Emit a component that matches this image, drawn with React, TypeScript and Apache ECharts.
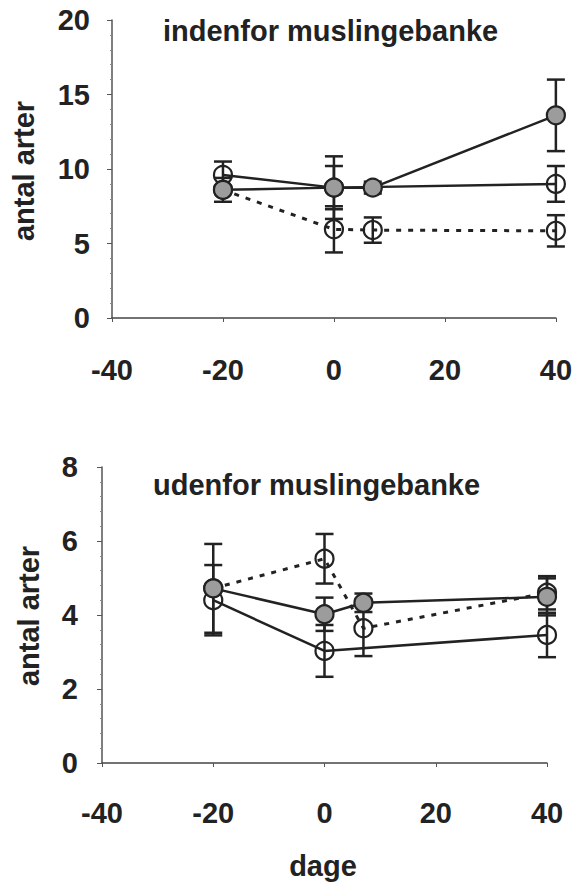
import React, { useEffect, useRef } from "react";
import * as echarts from "echarts";

// ---- data: top panel (indenfor muslingebanke) ----
const topDaysA = [-20, 0, 7, 40];
const topValsA = [8.6, 8.75, 8.75, 13.6];
const topErrA = [0.8, 1.45, 0.4, 2.4];

const topDaysB = [-20, 0, 40];
const topValsB = [9.6, 8.75, 9.0];
const topErrB = [0.9, 2.1, 1.2];

const topDaysC = [-20, 0, 7, 40];
const topValsC = [8.6, 5.95, 5.9, 5.85];
const topErrC = [0, 1.55, 0.85, 1.05];

// ---- data: bottom panel (udenfor muslingebanke) ----
const botDaysA = [-20, 0, 7, 40];
const botValsA = [4.72, 4.02, 4.33, 4.49];
const botErrA = [1.2, 0.45, 0.25, 0.5];

const botDaysB = [-20, 0, 40];
const botValsB = [4.4, 3.03, 3.46];
const botErrB = [0.95, 0.7, 0.6];

const botDaysC = [-20, 0, 7, 40];
const botValsC = [4.72, 5.52, 3.64, 4.6];
const botErrC = [0, 0.67, 0.75, 0.45];

const xTicks = [-40, -20, 0, 20, 40];
const topTitle = "indenfor muslingebanke";
const botTitle = "udenfor muslingebanke";
const yName = "antal arter";
const xName = "dage";

const FONT = '"Liberation Sans", Arial, Helvetica, sans-serif';
const INK = "#222";

function pts(days: number[], vals: number[]) {
  return days.map((d, i) => [d, vals[i]]);
}
function errPts(days: number[], vals: number[], errs: number[]) {
  return days.map((d, i) => [d, vals[i], errs[i]]);
}

function errSeries(data: number[][], idx: number) {
  return {
    type: "custom",
    xAxisIndex: idx,
    yAxisIndex: idx,
    z: 1,
    silent: true,
    data,
    encode: { x: 0, y: 1 },
    renderItem: (params: any, api: any) => {
      const x = api.value(0);
      const y = api.value(1);
      const e = api.value(2);
      if (!e) return null;
      const t = api.coord([x, y + e]);
      const b = api.coord([x, y - e]);
      const w = 9;
      const st = { stroke: INK, lineWidth: 2.5 };
      return {
        type: "group",
        children: [
          { type: "line", shape: { x1: t[0], y1: t[1], x2: b[0], y2: b[1] }, style: st },
          { type: "line", shape: { x1: t[0] - w, y1: t[1], x2: t[0] + w, y2: t[1] }, style: st },
          { type: "line", shape: { x1: b[0] - w, y1: b[1], x2: b[0] + w, y2: b[1] }, style: st },
        ],
      };
    },
  };
}

function lineSeries(data: number[][], idx: number, kind: "filled" | "open" | "dashed", z: number) {
  return {
    type: "line",
    xAxisIndex: idx,
    yAxisIndex: idx,
    z,
    data,
    symbol: "circle",
    symbolSize: 18,
    showSymbol: true,
    lineStyle: {
      color: INK,
      width: kind === "dashed" ? 3 : 2.5,
      type: kind === "dashed" ? [5, 7] : "solid",
    },
    itemStyle: {
      color: kind === "filled" ? "#9c9c9c" : "rgba(255,255,255,0)",
      borderColor: INK,
      borderWidth: 2.2,
      opacity: 1,
    },
  };
}

function xAxis(idx: number, margin: number) {
  return {
    type: "value",
    gridIndex: idx,
    min: -40,
    max: 40,
    interval: 20,
    axisLine: { show: true, onZero: false, lineStyle: { color: "#444", width: 1.5 } },
    axisTick: { show: true, length: 4, lineStyle: { color: "#555" } },
    splitLine: { show: false },
    axisLabel: {
      margin,
      fontSize: 29,
      fontWeight: "bold",
      fontFamily: FONT,
      color: INK,
      formatter: (v: number) => (xTicks.includes(v) ? String(v) : ""),
    },
  };
}

function yAxis(idx: number, max: number, interval: number, margin: number) {
  return {
    type: "value",
    gridIndex: idx,
    min: 0,
    max,
    interval,
    axisLine: { show: true, onZero: false, lineStyle: { color: "#555", width: 1.5 } },
    axisTick: { show: true, length: 5, lineStyle: { color: "#555" } },
    minorTick: { show: true, splitNumber: 5, length: 2, lineStyle: { color: "#888" } },
    splitLine: { show: false },
    axisLabel: {
      margin,
      fontSize: 29,
      fontWeight: "bold",
      fontFamily: FONT,
      color: INK,
    },
  };
}

export default function App() {
  const ref = useRef<HTMLDivElement>(null);
  useEffect(() => {
    document.body.style.margin = "0";
    const chart = echarts.init(ref.current!, null, { renderer: "svg" });
    const textStyle = (fontSize: number) => ({
      fontSize,
      fontWeight: "bold",
      fontFamily: FONT,
      fill: INK,
    });
    chart.setOption({
      animation: false,
      backgroundColor: "#ffffff",
      grid: [
        { left: 112, right: 18, top: 20, bottom: 566 },
        { left: 102, right: 28, top: 467, bottom: 121 },
      ],
      xAxis: [xAxis(0, 37), xAxis(1, 35)],
      yAxis: [yAxis(0, 20, 5, 22), yAxis(1, 8, 2, 24)],
      graphic: [
        { type: "text", left: 163, top: 16, style: { ...textStyle(29), text: topTitle } },
        { type: "text", left: 153, top: 470, style: { ...textStyle(29), text: botTitle } },
        {
          type: "text",
          x: 24,
          y: 171,
          rotation: Math.PI / 2,
          style: { ...textStyle(29), text: yName, align: "center", verticalAlign: "middle" },
        },
        {
          type: "text",
          x: 29,
          y: 616,
          rotation: Math.PI / 2,
          style: { ...textStyle(29), text: yName, align: "center", verticalAlign: "middle" },
        },
        {
          type: "text",
          x: 323,
          y: 866,
          style: { ...textStyle(29), text: xName, align: "center", verticalAlign: "middle" },
        },
      ],
      series: [
        errSeries(errPts(topDaysA, topValsA, topErrA), 0),
        errSeries(errPts(topDaysB, topValsB, topErrB), 0),
        errSeries(errPts(topDaysC, topValsC, topErrC), 0),
        lineSeries(pts(topDaysB, topValsB), 0, "open", 2),
        lineSeries(pts(topDaysC, topValsC), 0, "dashed", 3),
        lineSeries(pts(topDaysA, topValsA), 0, "filled", 4),
        errSeries(errPts(botDaysA, botValsA, botErrA), 1),
        errSeries(errPts(botDaysB, botValsB, botErrB), 1),
        errSeries(errPts(botDaysC, botValsC, botErrC), 1),
        lineSeries(pts(botDaysB, botValsB), 1, "open", 2),
        lineSeries(pts(botDaysC, botValsC), 1, "dashed", 3),
        lineSeries(pts(botDaysA, botValsA), 1, "filled", 4),
      ],
    });
    return () => chart.dispose();
  }, []);
  return (
    <div
      ref={ref}
      style={{ width: 575, height: 884, position: "absolute", left: 0, top: 0 }}
    />
  );
}
